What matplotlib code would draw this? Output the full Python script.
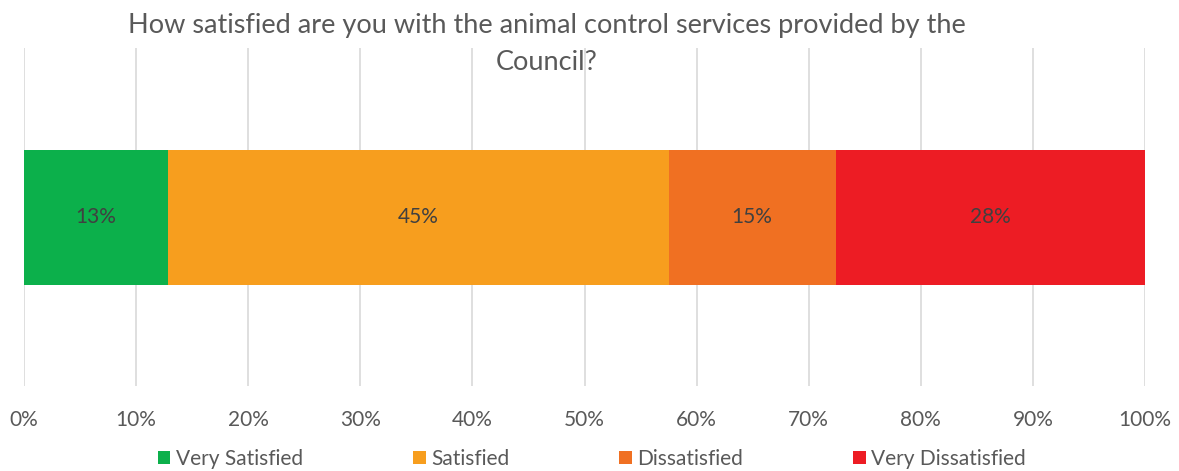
import matplotlib.pyplot as plt

plt.rcParams['font.family'] = ['Lato', 'DejaVu Sans']

# survey responses (% of respondents)
categories = ['Very Satisfied', 'Satisfied', 'Dissatisfied', 'Very Dissatisfied']
shares = [12.8, 44.7, 14.9, 27.6]
colors = ['#0cb04b', '#f79e1e', '#f07022', '#ed1c24']
ticks = [0, 10, 20, 30, 40, 50, 60, 70, 80, 90, 100]
tick_labels = ['%d%%' % t for t in ticks]

title = 'How satisfied are you with the animal control services provided by the\nCouncil?'

fig = plt.figure(figsize=(11.79, 4.71), dpi=100)
ax = fig.add_axes([0.0204, 0.1805, 0.9508, 0.717])

left = 0
for name, val, col in zip(categories, shares, colors):
    ax.barh(0, val, left=left, height=0.4, color=col, label=name, zorder=3)
    ax.text(left + val / 2, 0, '%.0f%%' % val, ha='center', va='center',
            fontsize=15, color='#404040', zorder=4)
    left += val

ax.set_xlim(0, 100)
ax.set_ylim(-0.5, 0.5)
ax.set_yticks([])
ax.set_xticks(ticks)
ax.set_xticklabels(tick_labels, fontsize=15, color='#595959')
ax.tick_params(axis='x', length=0, pad=17)
ax.grid(axis='x', color='#d9d9d9', linewidth=1.2, zorder=0)
for s in ax.spines.values():
    s.set_visible(False)

fig.text(0.464, 0.972, title, ha='center', va='top', fontsize=19.5,
         color='#595959', linespacing=1.6)

fig.legend(loc='lower center', bbox_to_anchor=(0.502, -0.036), ncol=4,
           frameon=False, fontsize=15, handlelength=0.6, handleheight=0.6,
           handletextpad=0.25, columnspacing=5.3, labelcolor='#595959')

fig.savefig('out.png', dpi=100)
